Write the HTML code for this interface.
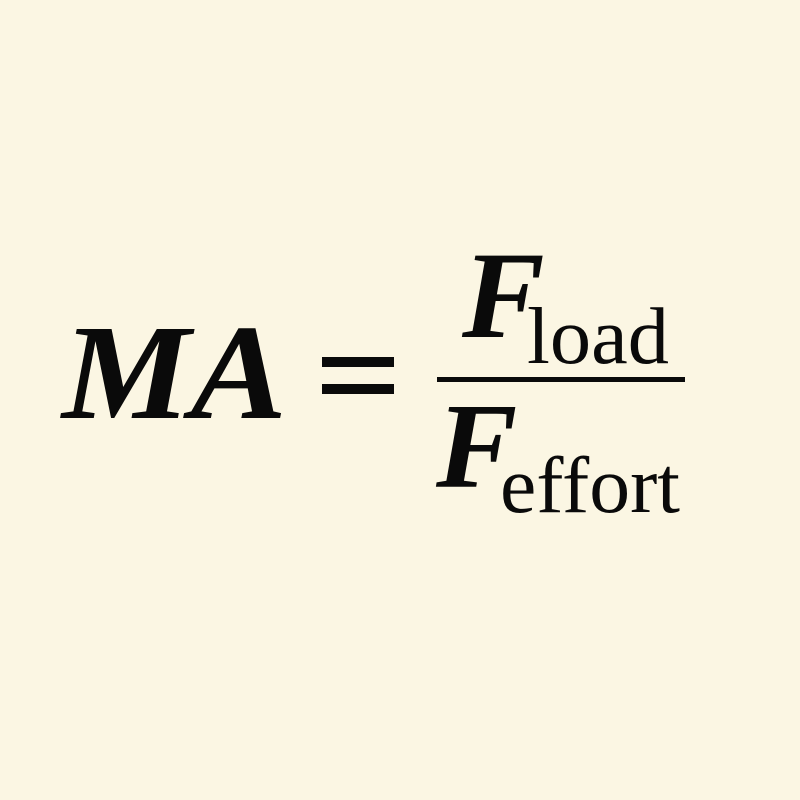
<!DOCTYPE html>
<html><head><meta charset="utf-8"><style>
html,body{margin:0;padding:0;background:#fbf6e3;}
svg{display:block}
</style></head><body>
<svg width="800" height="800" viewBox="0 0 800 800" xmlns="http://www.w3.org/2000/svg">
<rect width="800" height="800" fill="#fbf6e3"/>
<g font-family="Liberation Serif, serif" fill="#0a0a0a">
<text x="62" y="418" font-size="136" font-weight="bold" font-style="italic" textLength="225" lengthAdjust="spacingAndGlyphs">MA</text>
<rect x="322" y="357" width="72" height="10"/>
<rect x="322" y="384" width="72" height="10"/>
<rect x="437" y="377" width="248" height="5"/>
<text x="462" y="337" font-size="124" font-weight="bold" font-style="italic">F</text>
<text x="527" y="363" font-size="80" textLength="142" lengthAdjust="spacingAndGlyphs">load</text>
<text x="436" y="487" font-size="122" font-weight="bold" font-style="italic">F</text>
<text x="500" y="512" font-size="80" textLength="180" lengthAdjust="spacingAndGlyphs">effort</text>
</g>
</svg>
</body></html>
